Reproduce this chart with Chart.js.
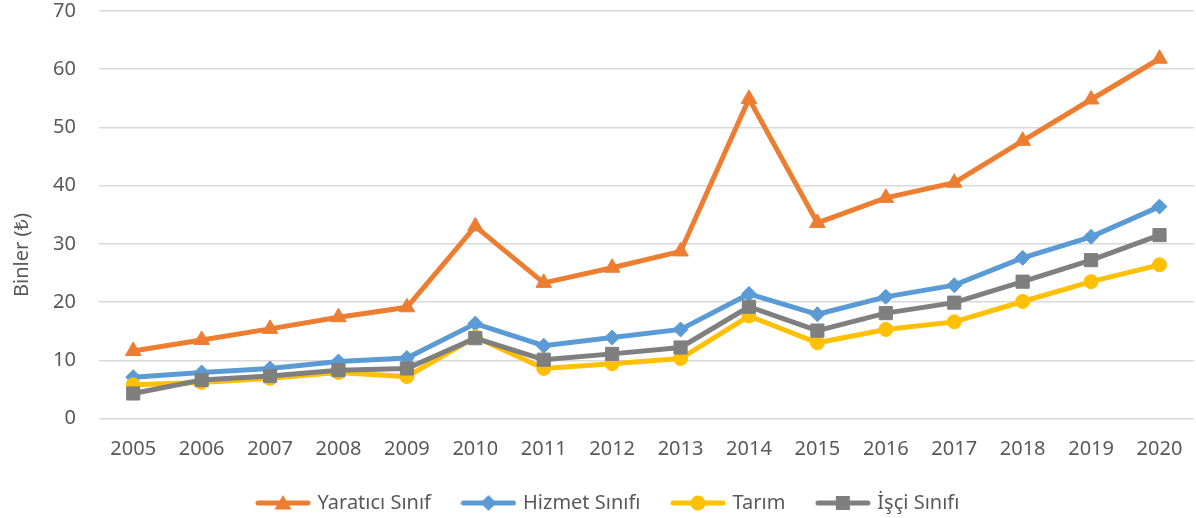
<!DOCTYPE html>
<html lang="tr">
<head>
<meta charset="utf-8">
<title>Binler</title>
<script src="https://cdn.jsdelivr.net/npm/chart.js@4.4.1/dist/chart.umd.min.js"></script>
<style>
    html, body { margin: 0; padding: 0; background: #fff; overflow: hidden; }
</style>
</head>
<body>
<canvas id="chart" width="1204" height="518"></canvas>
<script>
// --- Data ---

const years = ['2005', '2006', '2007', '2008', '2009', '2010', '2011', '2012',
               '2013', '2014', '2015', '2016', '2017', '2018', '2019', '2020'];

const yaratici = [11.6, 13.5, 15.4, 17.4, 19.1, 33.0, 23.3, 25.9, 28.7, 54.9, 33.6, 37.9, 40.5, 47.7, 54.8, 61.8];
const hizmet   = [7.1, 7.9, 8.6, 9.8, 10.4, 16.3, 12.5, 13.9, 15.3, 21.4, 17.9, 20.9, 22.9, 27.6, 31.2, 36.4];
const tarim    = [5.8, 6.2, 6.9, 7.9, 7.2, 14.0, 8.6, 9.4, 10.3, 17.6, 13.0, 15.3, 16.6, 20.1, 23.5, 26.4];
const isci     = [4.3, 6.6, 7.3, 8.3, 8.6, 13.8, 10.1, 11.1, 12.2, 19.2, 15.1, 18.1, 19.9, 23.5, 27.2, 31.5];

const seriesNames = ['Yaratıcı Sınıf', 'Hizmet Sınıfı', 'Tarım', 'İşçi Sınıfı'];
const yTicks = [0, 10, 20, 30, 40, 50, 60, 70];
const yTitle = 'Binler (₺)';

// --- Style ---

const COLORS = ['#ED7D31', '#5B9BD5', '#FFC000', '#7F7F7F'];
const TEXT = '#595959';
const FONT = { family: "'Noto Sans', 'Open Sans', 'DejaVu Sans', sans-serif", size: 20 };

// legend icon: short line with the marker in the middle (Excel style)
function makeIcon(color, shape) {
    const c = document.createElement('canvas');
    c.width = 56;
    c.height = 22;
    const g = c.getContext('2d');
    g.strokeStyle = color;
    g.lineWidth = 5;
    g.lineCap = 'round';
    g.beginPath();
    g.moveTo(3, 11);
    g.lineTo(53, 11);
    g.stroke();
    g.fillStyle = color;
    g.beginPath();
    if (shape === 'triangle') {
        g.moveTo(28, 3); g.lineTo(36.5, 17.5); g.lineTo(19.5, 17.5);
    } else if (shape === 'rectRot') {
        g.moveTo(28, 3); g.lineTo(36, 11); g.lineTo(28, 19); g.lineTo(20, 11);
    } else if (shape === 'circle') {
        g.arc(28, 11, 7.5, 0, Math.PI * 2);
    } else {
        g.rect(21, 4, 14, 14);
    }
    g.closePath();
    g.fill();
    return c;
}

const shapes = ['triangle', 'rectRot', 'circle', 'rect'];
const radii = [9, 7.5, 7, 9.3];
const icons = shapes.map((s, i) => makeIcon(COLORS[i], s));

// pin legend position and size like the original
const legendPlace = {
    id: 'legendPlace',
    beforeLayout(chart) {
        const lg = chart.legend;
        if (lg && !lg.fitPatched) {
            const fit = lg.fit;
            lg.fit = function () { fit.call(this); this.height = 40; };
            lg.fitPatched = true;
        }
    },
    afterLayout(chart) {
        const lg = chart.legend;
        const pad = lg.options.labels.padding;
        lg.left = 258.5 - pad;
        lg.top = 503 - 10 - pad;
    }
};

// rotated y axis title drawn at its original spot
const yTitlePlugin = {
    id: 'yTitle',
    afterDraw(chart) {
        const ctx = chart.ctx;
        ctx.save();
        ctx.translate(22, 255);
        ctx.rotate(-Math.PI / 2);
        ctx.font = `${FONT.size}px ${FONT.family}`;
        ctx.fillStyle = TEXT;
        ctx.textAlign = 'center';
        ctx.textBaseline = 'middle';
        ctx.fillText(yTitle, 0, 0);
        ctx.restore();
    }
};

const seriesData = [yaratici, hizmet, tarim, isci];

const datasets = seriesData.map((data, i) => ({
    label: seriesNames[i],
    data,
    borderColor: COLORS[i],
    backgroundColor: COLORS[i],
    borderWidth: 5,
    tension: 0,
    pointStyle: shapes[i],
    pointRadius: radii[i],
    pointBorderWidth: 1,
    pointBackgroundColor: COLORS[i],
    pointBorderColor: COLORS[i],
    order: seriesData.length - 1 - i   // later series on top, like Excel
}));

new Chart(document.getElementById('chart'), {
    type: 'line',
    data: { labels: years, datasets },
    plugins: [legendPlace, yTitlePlugin],
    options: {
        responsive: false,
        animation: false,
        layout: { padding: { top: 11, right: 1, left: 0, bottom: 0 } },
        scales: {
            x: {
                offset: true,
                grid: { display: false, drawTicks: false },
                border: { display: false },
                ticks: { color: TEXT, font: FONT, padding: 19, maxRotation: 0, autoSkip: false },
                afterFit(scale) {
                    scale.height = 59.5;
                    scale.paddingLeft = 0;
                    scale.paddingRight = 0;
                }
            },
            y: {
                min: yTicks[0],
                max: yTicks[yTicks.length - 1],
                ticks: { stepSize: yTicks[1] - yTicks[0], color: TEXT, font: FONT, padding: 23 },
                grid: { color: '#D9D9D9', lineWidth: 1.5, drawTicks: false },
                border: { display: false },
                afterFit(scale) {
                    scale.width = 99;
                    scale.paddingTop = 0;
                    scale.paddingBottom = 0;
                }
            }
        },
        plugins: {
            tooltip: { enabled: false },
            legend: {
                position: 'bottom',
                align: 'start',
                labels: {
                    usePointStyle: true,
                    pointStyleWidth: 49,
                    padding: 33,
                    color: TEXT,
                    font: FONT,
                    sort: (a, b) => a.datasetIndex - b.datasetIndex,
                    generateLabels(chart) {
                        const items = Chart.defaults.plugins.legend.labels.generateLabels(chart);
                        items.forEach(it => { it.pointStyle = icons[it.datasetIndex]; });
                        return items;
                    }
                }
            }
        }
    }
});
</script>
</body>
</html>
